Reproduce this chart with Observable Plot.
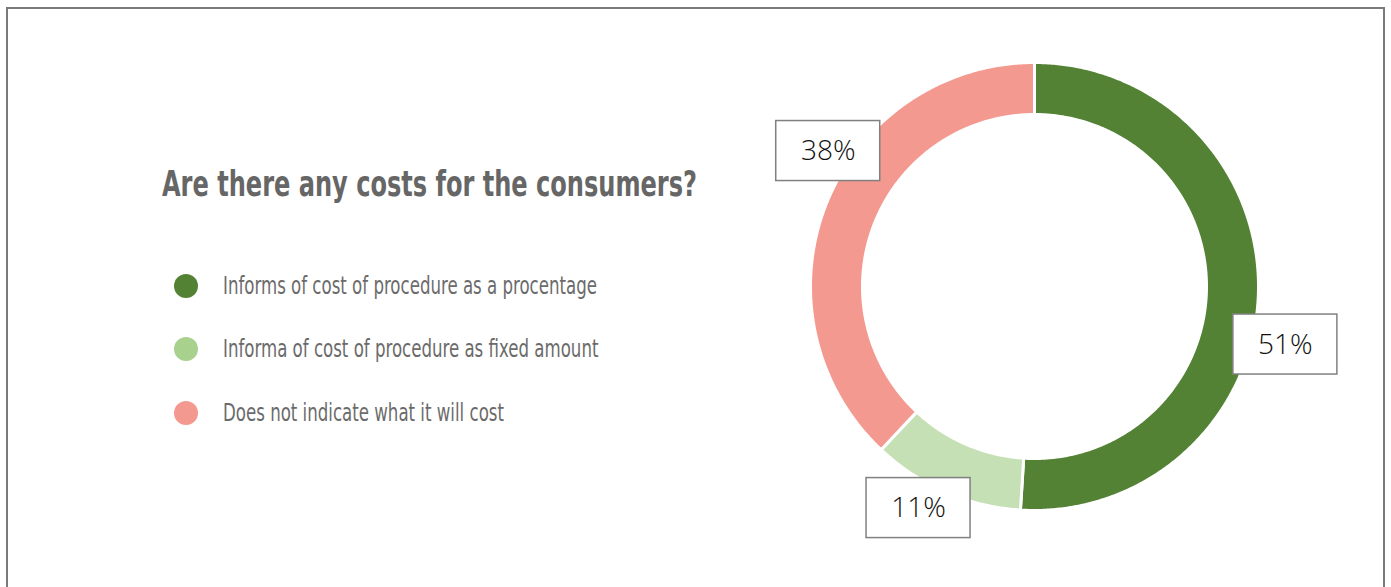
<!DOCTYPE html>
<html><head><meta charset="utf-8">
<script src="https://cdn.jsdelivr.net/npm/d3@7"></script>
<script src="https://cdn.jsdelivr.net/npm/@observablehq/plot@0.6"></script>
<style>
body{margin:0;background:#fff;}
#page{position:relative;width:1391px;height:587px;overflow:hidden;background:#fff;}
#frame{position:absolute;left:6px;top:7px;width:1379px;height:640px;border:2px solid #7a7a7a;box-sizing:border-box;}
#title{position:absolute;left:162px;top:162px;font-family:"Liberation Sans Narrow","DejaVu Sans Condensed","Roboto Condensed",sans-serif;font-weight:bold;font-size:36px;line-height:44px;color:#666;white-space:nowrap;transform-origin:0 0;}
.item{position:absolute;left:0;top:0;}
.sw{position:absolute;width:24px;height:24px;border-radius:50%;}
.lt{position:absolute;font-family:"Liberation Sans Narrow","DejaVu Sans Condensed","Roboto Condensed",sans-serif;font-size:24px;line-height:28px;color:#6b6b6b;white-space:nowrap;transform-origin:0 0;}
#chart{position:absolute;top:0;}
</style></head>
<body><div id="page"><div id="frame"></div><div id="title"></div><div id="legend"></div><div id="chart"></div></div>
<script>
const title = "Are there any costs for the consumers?";
const categories = ["Informs of cost of procedure as a procentage", "Informa of cost of procedure as fixed amount", "Does not indicate what it will cost"];
const values = [51, 11, 38];
const labels = ["51%", "11%", "38%"];
const donutColors = ["#548235", "#c5e0b4", "#f4998f"];
const legendColors = ["#548235", "#a9d18e", "#f4998f"];

// layout (pixels)
const cxPx = 1034, cyPx = 286, Rpx = 224, innerFrac = 172 / 224;
const svgW = 560, svgH = 587;
const labelNudgePx = [[27, 51], [-27, 16], [2, -53]];
const boxW = 104, boxH = 60;

document.getElementById("title").textContent = title;
const tEl = document.getElementById("title");
const tW = tEl.getBoundingClientRect().width;
tEl.style.transform = `scaleX(${535 / tW})`;

const legend = document.getElementById("legend");
const legY = [286, 349, 413];
let ltEls = [];
categories.forEach((c, i) => {
  const sw = document.createElement("div");
  sw.className = "sw"; sw.style.left = (186 - 12) + "px"; sw.style.top = (legY[i] - 12) + "px";
  sw.style.background = legendColors[i];
  legend.appendChild(sw);
  const t = document.createElement("div");
  t.className = "lt"; t.textContent = c; t.style.left = "223px"; t.style.top = (legY[i] - 14) + "px";
  legend.appendChild(t); ltEls.push(t);
});
const w0 = ltEls[0].getBoundingClientRect().width;
ltEls.forEach(t => t.style.transform = `scaleX(${374 / w0})`);

// donut geometry derived from values
const total = d3.sum(values);
let acc = 0;
const slices = values.map((v, i) => {
  const a0 = acc / total * 2 * Math.PI; acc += v;
  const a1 = acc / total * 2 * Math.PI;
  return {cat: categories[i], label: labels[i], a0, a1, mid: (a0 + a1) / 2, i};
});
const pts = [];
for (const s of slices) {
  const n = Math.max(8, Math.ceil((s.a1 - s.a0) / (Math.PI / 360)));
  for (let k = 0; k <= n; k++) { const t = s.a0 + (s.a1 - s.a0) * k / n; pts.push({cat: s.cat, x: Math.sin(t), y: Math.cos(t)}); }
  for (let k = n; k >= 0; k--) { const t = s.a0 + (s.a1 - s.a0) * k / n; pts.push({cat: s.cat, x: innerFrac * Math.sin(t), y: innerFrac * Math.cos(t)}); }
}
const u = 1 / Rpx;
const labelData = slices.map(s => {
  const cx = Math.sin(s.mid) + labelNudgePx[s.i][0] * u;
  const cy = Math.cos(s.mid) - labelNudgePx[s.i][1] * u;
  return {label: s.label, cx, cy, x1: cx - boxW / 2 * u, x2: cx + boxW / 2 * u, y1: cy - boxH / 2 * u, y2: cy + boxH / 2 * u};
});

const chart = Plot.plot({
  width: svgW, height: svgH, margin: 0,
  x: {domain: [-svgW / 2 * u, svgW / 2 * u], axis: null},
  y: {domain: [-(svgH - cyPx) * u, cyPx * u], axis: null},
  color: {domain: categories, range: donutColors},
  style: {background: "transparent", overflow: "visible"},
  marks: [
    Plot.line(pts, {x: "x", y: "y", z: "cat", fill: "cat", stroke: "white", strokeWidth: 3, curve: "linear-closed"}),
    Plot.rect(labelData, {x1: "x1", x2: "x2", y1: "y1", y2: "y2", fill: "white", stroke: "#808080", strokeWidth: 1.5}),
    Plot.text(labelData, {x: "cx", y: "cy", text: "label", fontSize: 28, fontWeight: 300, fill: "#111", fontFamily: "'Open Sans', 'Noto Sans', sans-serif"})
  ]
});
const holder = document.getElementById("chart");
holder.style.left = (cxPx - svgW / 2) + "px";
holder.appendChild(chart);
</script></body></html>
